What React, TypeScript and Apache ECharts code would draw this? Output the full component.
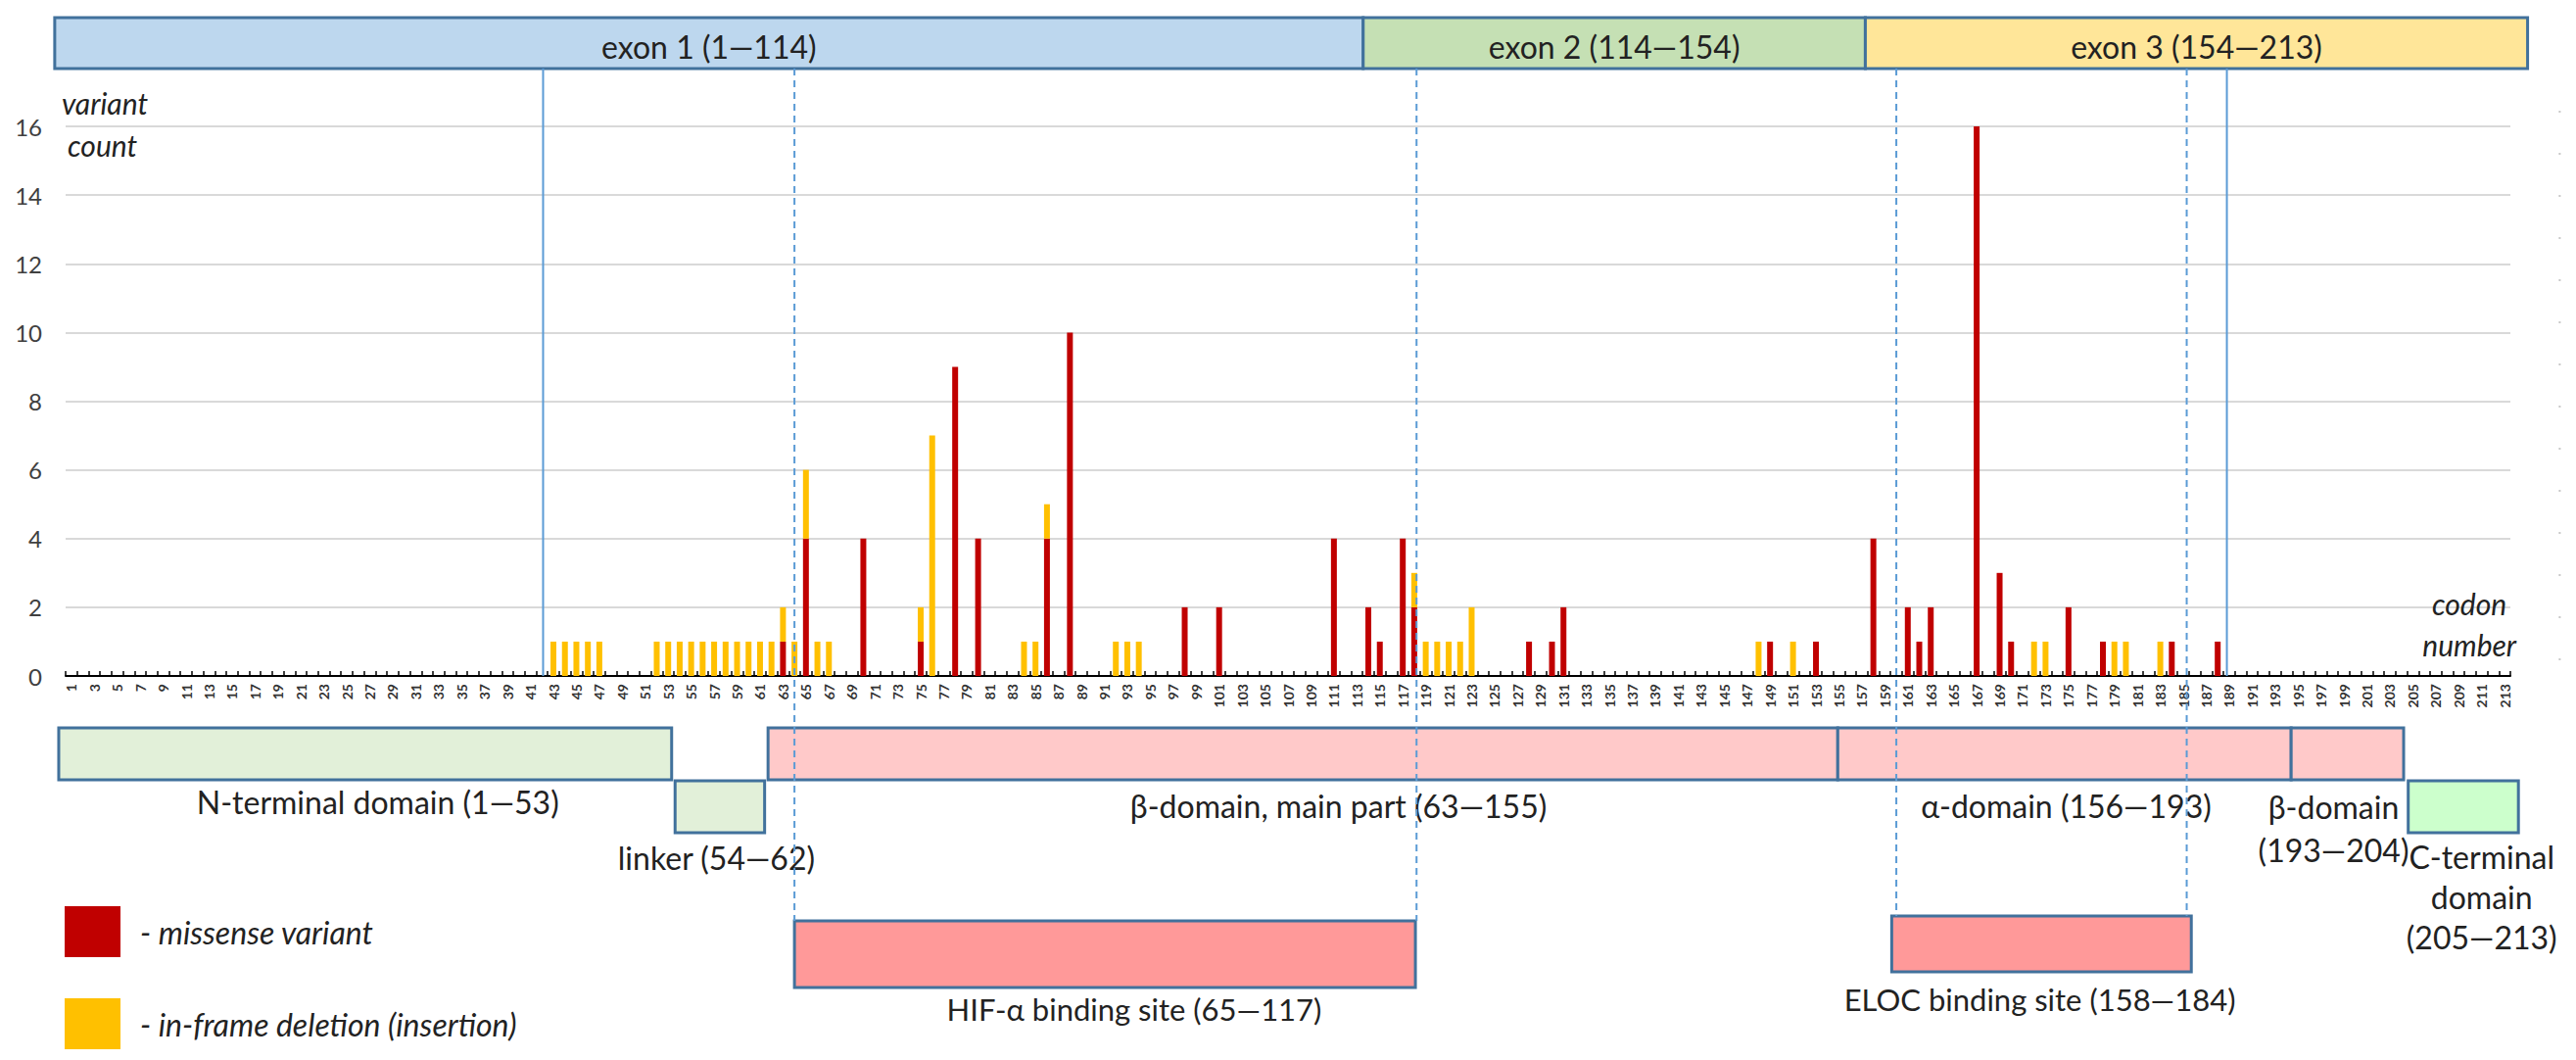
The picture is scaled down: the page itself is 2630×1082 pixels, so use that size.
import React, { useEffect, useRef } from "react";
import * as echarts from "echarts";

// Codon positions along the protein (category axis)
const CODONS: string[] = Array.from({ length: 213 }, (_, i) => String(i + 1));

// [codon, number of variants]
const MISSENSE: Array<[number, number]> = [
  [63, 1], [65, 4], [70, 4], [75, 1], [78, 9], [80, 4], [86, 4], [88, 10],
  [98, 2], [101, 2], [111, 4], [114, 2], [115, 1], [117, 4], [118, 2],
  [128, 1], [130, 1], [131, 2], [149, 1], [153, 1], [158, 4], [161, 2],
  [162, 1], [163, 2], [167, 16], [169, 3], [170, 1], [175, 2], [178, 1],
  [184, 1], [188, 1],
];
const IN_FRAME: Array<[number, number]> = [
  [43, 1], [44, 1], [45, 1], [46, 1], [47, 1],
  [52, 1], [53, 1], [54, 1], [55, 1], [56, 1], [57, 1], [58, 1], [59, 1],
  [60, 1], [61, 1], [62, 1], [63, 1], [64, 1], [65, 2], [66, 1], [67, 1],
  [75, 1], [76, 7], [84, 1], [85, 1], [86, 1], [92, 1], [93, 1], [94, 1],
  [118, 1], [119, 1], [120, 1], [121, 1], [122, 1], [123, 2],
  [148, 1], [151, 1], [172, 1], [173, 1], [179, 1], [180, 1], [183, 1],
];

const Y_MIN = 0;
const Y_MAX = 16;
const Y_STEP = 2;

const SERIES_NAMES = ["missense variant", "in-frame deletion (insertion)"];

// Exons: label and covered codon span (in codon units)
const EXON_LABELS = ["exon 1 (1\u2014114)", "exon 2 (114\u2014154)", "exon 3 (154\u2014213)"];
const EXON_SPANS: Array<[number, number]> = [[-0.45, 113.55], [113.55, 157.3], [157.3, 215.0]];

// Structural domains
const DOMAIN_LABELS = [
  "N-terminal domain (1\u201453)",
  "linker (54\u201462)",
  "\u03b2-domain, main part (63\u2014155)",
  "\u03b1-domain (156\u2014193)",
  "\u03b2-domain\n(193\u2014204)",
  "C-terminal\ndomain\n(205\u2014213)",
];
const DOMAIN_SPANS: Array<[number, number]> = [
  [-0.1, 53.3], [53.6, 61.4], [61.7, 154.9], [154.9, 194.4], [194.4, 204.2], [204.6, 214.2],
];
const DOMAIN_LABEL_AT = [27.7, 57.2, 111.4, 174.8, 198.1, 211.0];

// Binding sites
const SITE_LABELS = ["HIF-\u03b1 binding site (65\u2014117)", "ELOC binding site (158\u2014184)"];
const SITE_SPANS: Array<[number, number]> = [[64.0, 118.1], [159.6, 185.7]];
const SITE_LABEL_AT = [93.6, 172.5];

// Guide lines (codon units)
const VARIANT_RANGE_MARKS = [42.1, 188.8];
const SITE_EDGE_MARKS = [64.0, 118.2, 160.0, 185.3];

// ---- styling / layout ----
const FONT = "Lato, 'Open Sans', sans-serif";
const TEXT = "#222222";
const BORDER = "#41719C";
const GUIDE = "#5B9BD5";
const EXON_FILLS = ["#BDD7EE", "#C5E0B4", "#FFE699"];
const DOMAIN_FILLS = ["#E2F0D9", "#E2F0D9", "#FFC9C9", "#FFC9C9", "#FFC9C9", "#CCFFCC"];
const DOMAIN_ROW = [0, 1, 0, 0, 0, 1];
const ROW_TOP = [743, 797];
const ROW_H = 53;
const DOMAIN_LABEL_Y = [818, 875, 822, 822, 845, 915];
const DOMAIN_LINE_H = [40, 40, 40, 40, 44, 41];
const SITE_FILL = "#FF9999";
const SITE_TOP = [940, 935];
const SITE_H = [68, 57];
const SITE_LABEL_Y = [1030, 1020];
const EXON_TOP = 18;
const EXON_H = 52;

function toSeries(pairs: Array<[number, number]>): number[] {
  const out = CODONS.map(() => 0);
  pairs.forEach(([codon, n]) => {
    out[codon - 1] = n;
  });
  return out;
}

function buildGraphics(chart: echarts.ECharts): any[] {
  const x0 = chart.convertToPixel({ xAxisIndex: 0 }, 0) as number;
  const x1 = chart.convertToPixel({ xAxisIndex: 0 }, 1) as number;
  const step = x1 - x0;
  const cx = (c: number) => x0 + (c - 1) * step;
  const yBase = chart.convertToPixel({ yAxisIndex: 0 }, 0) as number;
  const yTopGrid = chart.convertToPixel({ yAxisIndex: 0 }, Y_MAX) as number;
  const yTop = EXON_TOP + EXON_H;

  const els: any[] = [];
  const box = (span: [number, number], top: number, h: number, fill: string) => ({
    type: "rect",
    z: 5,
    shape: { x: cx(span[0]), y: top, width: cx(span[1]) - cx(span[0]), height: h },
    style: { fill, stroke: BORDER, lineWidth: 3 },
  });
  const label = (
    text: string,
    x: number,
    y: number,
    size: number,
    lineHeight?: number,
    italic?: boolean,
    align = "center"
  ) => ({
    type: "text",
    z: 8,
    x,
    y,
    style: {
      text,
      fill: TEXT,
      fontFamily: FONT,
      fontSize: size,
      fontStyle: italic ? "italic" : "normal",
      lineHeight: lineHeight || size * 1.2,
      align,
      verticalAlign: "middle",
    },
  });

  EXON_SPANS.forEach((span, i) => {
    els.push(box(span, EXON_TOP, EXON_H, EXON_FILLS[i]));
    els.push(label(EXON_LABELS[i], cx((span[0] + span[1]) / 2), EXON_TOP + EXON_H / 2 + 3, 32));
  });

  DOMAIN_SPANS.forEach((span, i) => {
    els.push(box(span, ROW_TOP[DOMAIN_ROW[i]], ROW_H, DOMAIN_FILLS[i]));
    els.push(label(DOMAIN_LABELS[i], cx(DOMAIN_LABEL_AT[i]), DOMAIN_LABEL_Y[i], 32, DOMAIN_LINE_H[i]));
  });

  SITE_SPANS.forEach((span, i) => {
    els.push(box(span, SITE_TOP[i], SITE_H[i], SITE_FILL));
    els.push(label(SITE_LABELS[i], cx(SITE_LABEL_AT[i]), SITE_LABEL_Y[i], 31));
  });

  VARIANT_RANGE_MARKS.forEach((c) => {
    els.push({
      type: "line",
      z: 10,
      shape: { x1: cx(c), y1: yTop, x2: cx(c), y2: yBase },
      style: { stroke: GUIDE, lineWidth: 2 },
    });
  });

  SITE_EDGE_MARKS.forEach((c, i) => {
    els.push({
      type: "line",
      z: 10,
      shape: { x1: cx(c), y1: yTop, x2: cx(c), y2: SITE_TOP[i < 2 ? 0 : 1] },
      style: { stroke: GUIDE, lineWidth: 2, lineDash: [7, 5] },
    });
  });

  // faint dotted rule at the right-hand edge of the plot frame
  els.push({
    type: "line",
    z: 1,
    shape: { x1: cx(217.8), y1: yTopGrid - 16, x2: cx(217.8), y2: yBase - 6 },
    style: { stroke: "#C8C8C8", lineWidth: 2, lineDash: [2, 41] },
  });

  // axis titles
  els.push(label("variant", 63, 105, 30, undefined, true, "left"));
  els.push(label("count", 69, 148, 30, undefined, true, "left"));
  els.push(label("codon", cx(213) + 2, 616, 30, undefined, true, "right"));
  els.push(label("number", cx(213) + 12, 658, 30, undefined, true, "right"));

  return els;
}

export default function App() {
  const ref = useRef<HTMLDivElement>(null);

  useEffect(() => {
    if (!ref.current) return;
    const chart = echarts.init(ref.current, null, { renderer: "svg" });

    const option: any = {
      animation: false,
      backgroundColor: "#ffffff",
      textStyle: { fontFamily: FONT },
      grid: { left: 67, right: 67, top: 129, bottom: 392, containLabel: false },
      legend: {
        data: SERIES_NAMES,
        orient: "vertical",
        left: 61,
        top: 920,
        icon: "rect",
        itemWidth: 57,
        itemHeight: 52,
        itemGap: 42,
        selectedMode: false,
        formatter: (name: string) => "- " + name,
        textStyle: {
          fontFamily: FONT,
          fontStyle: "italic",
          fontSize: 32,
          color: TEXT,
          padding: [0, 0, 0, 15],
        },
      },
      xAxis: {
        type: "category",
        data: CODONS,
        axisLine: { lineStyle: { color: "#000000", width: 2 } },
        axisTick: {
          show: true,
          inside: true,
          length: 5,
          interval: 0,
          lineStyle: { color: "#000000", width: 1.5 },
        },
        axisLabel: {
          interval: 1,
          rotate: 90,
          fontSize: 14,
          fontWeight: "bold",
          color: "#333333",
          margin: 8,
          fontFamily: FONT,
        },
        splitLine: { show: false },
      },
      yAxis: {
        type: "value",
        min: Y_MIN,
        max: Y_MAX,
        interval: Y_STEP,
        axisLine: { show: false },
        axisTick: { show: false },
        axisLabel: { fontSize: 24, color: "#404040", margin: 24, fontFamily: FONT },
        splitLine: { lineStyle: { color: "#D9D9D9", width: 2 } },
      },
      series: [
        {
          name: SERIES_NAMES[0],
          type: "bar",
          stack: "variants",
          barWidth: 6,
          data: toSeries(MISSENSE),
          itemStyle: { color: "#C00000" },
        },
        {
          name: SERIES_NAMES[1],
          type: "bar",
          stack: "variants",
          barWidth: 6,
          data: toSeries(IN_FRAME),
          itemStyle: { color: "#FFC000" },
        },
      ],
    };

    chart.setOption(option);
    chart.setOption({ graphic: buildGraphics(chart) });

    return () => {
      chart.dispose();
    };
  }, []);

  return (
    <div
      ref={ref}
      style={{ position: "fixed", left: 0, top: 0, width: 2630, height: 1082, background: "#ffffff" }}
    />
  );
}
